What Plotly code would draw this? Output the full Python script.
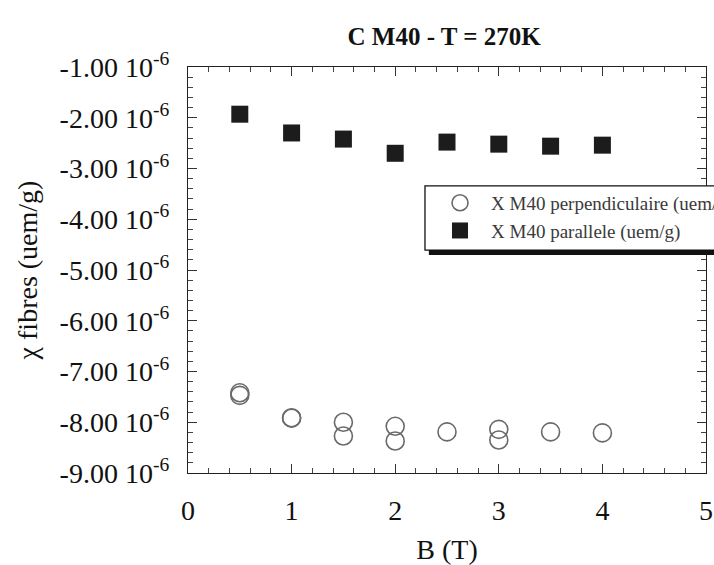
import plotly.graph_objects as go

# Magnetic field (T) and susceptibility of the fibres (uem/g)
b_parallel = [0.5, 1.0, 1.5, 2.0, 2.5, 3.0, 3.5, 4.0]
chi_parallel = [-1.93e-6, -2.30e-6, -2.42e-6, -2.70e-6, -2.48e-6, -2.52e-6, -2.56e-6, -2.54e-6]

b_perpendicular = [0.5, 0.5, 1.0, 1.0, 1.5, 1.5, 2.0, 2.0, 2.5, 3.0, 3.0, 3.5, 4.0]
chi_perpendicular = [-7.42e-6, -7.47e-6, -7.91e-6, -7.92e-6, -8.00e-6, -8.27e-6,
                     -8.08e-6, -8.37e-6, -8.19e-6, -8.14e-6, -8.35e-6, -8.19e-6, -8.21e-6]

y_tick_values = [-1e-6, -2e-6, -3e-6, -4e-6, -5e-6, -6e-6, -7e-6, -8e-6, -9e-6]
y_tick_labels = ["%.2f 10<sup>-6</sup>" % (v * 1e6) for v in y_tick_values]
x_tick_values = [0, 1, 2, 3, 4, 5]

serif = "Liberation Serif"

fig = go.Figure()
fig.add_trace(go.Scatter(
    x=b_perpendicular, y=chi_perpendicular, mode="markers",
    name="X M40 perpendiculaire (uem/g)",
    marker=dict(symbol="circle-open", size=18, color="#6a6a6a", line=dict(width=1.6, color="#6a6a6a")),
))
fig.add_trace(go.Scatter(
    x=b_parallel, y=chi_parallel, mode="markers",
    name="X M40 parallele (uem/g)",
    marker=dict(symbol="square", size=17, color="#1c1c1c"),
))

axis_common = dict(
    showline=True, linecolor="#222", linewidth=1.3, mirror="ticks",
    ticks="inside", ticklen=9, tickwidth=1.2, tickcolor="#333",
    showgrid=False, zeroline=False, ticklabelstandoff=12,
    tickfont=dict(family=serif, size=28, color="#111"),
)

# legend frame with a drop shadow along its lower edge (runs off the right side)
legend_frame = [
    dict(type="rect", xref="paper", yref="paper", x0=0.465, x1=1.05, y0=0.537, y1=0.552,
         fillcolor="#111", line=dict(width=0), layer="above"),
    dict(type="rect", xref="paper", yref="paper", x0=0.4575, x1=1.05, y0=0.549, y1=0.707,
         fillcolor="white", line=dict(color="#111", width=1.3), layer="above"),
]

fig.update_layout(
    width=714, height=565,
    margin=dict(l=188, r=8, t=67, b=92, autoexpand=False),
    paper_bgcolor="white", plot_bgcolor="white",
    font=dict(family=serif),
    title=dict(text="<b>C M40 - T = 270K</b>", x=0.622, xanchor="center", y=0.935, yanchor="middle",
               font=dict(family=serif, size=25, color="#111")),
    xaxis=dict(axis_common, range=[0, 5], tickvals=x_tick_values,
               minor=dict(ticks="inside", ticklen=5, tickwidth=1, tickcolor="#444", dtick=0.2),
               title=dict(text="B (T)", font=dict(family=serif, size=28, color="#111"), standoff=14)),
    yaxis=dict(axis_common, range=[-9e-6, -1e-6], tickvals=y_tick_values, ticktext=y_tick_labels,
               minor=dict(ticks="inside", ticklen=5, tickwidth=1, tickcolor="#444", dtick=0.2e-6),
               title=dict(text="χ fibres (uem/g)", font=dict(family=serif, size=28, color="#111"), standoff=13)),
    shapes=legend_frame,
    showlegend=True,
    legend=dict(x=0.4653, y=0.712, xanchor="left", yanchor="top",
                bgcolor="rgba(0,0,0,0)", borderwidth=0,
                font=dict(family=serif, size=19, color="#3a3a3a"),
                itemsizing="trace", itemwidth=52, tracegroupgap=0),
)

fig.write_html("out.html")
